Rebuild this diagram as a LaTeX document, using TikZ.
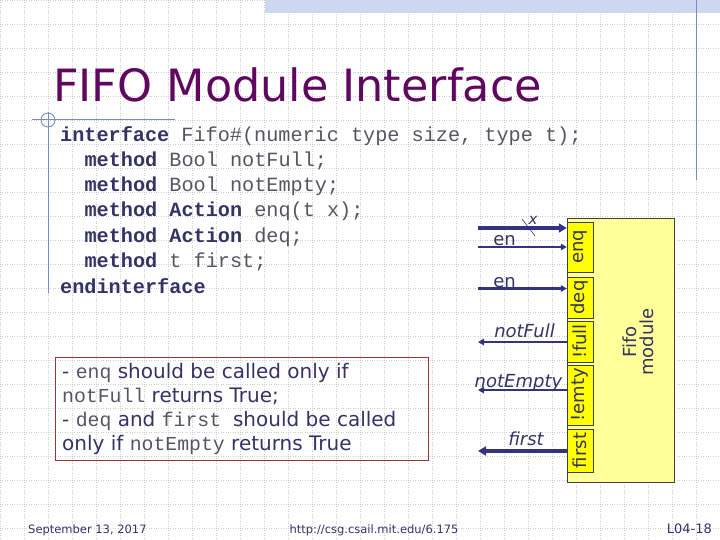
\documentclass[tikz,border=0pt]{standalone}
\usepackage{graphicx}
\usepackage{fontspec}
\setmainfont{DejaVu Sans}
\setmonofont{Liberation Mono}
\usetikzlibrary{arrows.meta,positioning}

\definecolor{titlepurple}{RGB}{96,8,96}
\definecolor{navy}{RGB}{51,51,102}
\definecolor{codegray}{RGB}{85,85,100}
\definecolor{wireblue}{RGB}{51,51,128}
\definecolor{modyellow}{RGB}{255,255,153}
\definecolor{portyellow}{RGB}{255,255,0}
\definecolor{notered}{RGB}{160,50,60}
\definecolor{gridgray}{RGB}{205,205,205}
\definecolor{lineblue}{RGB}{120,140,190}
\definecolor{barblue}{RGB}{205,215,240}

\newcommand{\kw}[1]{{\bfseries\color{navy}#1}}
\newcommand{\cd}[1]{{\ttfamily\fontsize{19.8}{24}\selectfont\color{codegray}#1}}

\tikzset{
  gridline/.style={gridgray,line width=0.5pt,dash pattern=on 0.8pt off 1.6pt},
  deco/.style={lineblue,line width=0.9pt},
  codeline/.style={anchor=base west,inner sep=0pt,text=codegray,
    font=\ttfamily\fontsize{20.2}{25}\selectfont},
  noteline/.style={anchor=base west,inner sep=0pt,text=navy,
    font=\fontsize{20}{24}\selectfont},
  port/.style={draw=black!75,fill=portyellow,minimum width=26pt,inner sep=0pt,
    text=navy,font=\fontsize{18}{18}\selectfont},
  wire/.style={wireblue,line width=2.2pt,-{Triangle[length=6pt,width=6.5pt]}},
  bus/.style={wireblue,line width=4.5pt,-{Triangle[length=8pt,width=9pt]}},
  wirelbl/.style={anchor=base,inner sep=0pt,text=navy,font=\fontsize{18}{18}\selectfont},
  footer/.style={anchor=base,inner sep=0pt,text=navy,font=\fontsize{11.5}{12}\selectfont}
}

\begin{document}
\begin{tikzpicture}[x=1pt,y=-1pt]
  \useasboundingbox (0,0) rectangle (720,540);
  % background grid of the slide
  \foreach \x in {0,24,...,720}
    \draw[gridline] (\x,0) -- (\x,540);
  \foreach \y in {0,24,...,528}
    \draw[gridline] (0,\y) -- (720,\y);
  \fill[barblue] (265,0) rectangle (720,13);
  \draw[deco] (696,0) -- (696,180);
  \draw[deco] (32,119) -- (175,119);
  \draw[deco] (48,112) -- (48,293);
  \draw[deco] (48,120) circle (7);

  \node[anchor=base west,inner sep=0pt,text=titlepurple,font=\fontsize{44.5}{50}\selectfont]
    (title) at (53,102) {FIFO Module Interface};

  % interface code
  \node[codeline] (code1) at (60,142)   {\kw{interface} Fifo\#(numeric type size, type t);};
  \node[codeline] (code2) at (84.4,167) {\kw{method} Bool notFull;};
  \node[codeline] (code3) at (84.4,192) {\kw{method} Bool notEmpty;};
  \node[codeline] (code4) at (84.4,217) {\kw{method} \kw{Action} enq(t x);};
  \node[codeline] (code5) at (84.4,242) {\kw{method} \kw{Action} deq;};
  \node[codeline] (code6) at (84.4,267) {\kw{method} t first;};
  \node[codeline] (code7) at (60,293)   {\kw{endinterface}};

  % note
  \node[draw=notered,line width=0.8pt,anchor=north west,minimum width=373pt,
    minimum height=103pt] (note) at (55,357) {};
  \node[noteline] (note1) at (62,378) {- \cd{enq} should be called only if};
  \node[noteline] (note2) at (62,402) {\cd{notFull} returns True;};
  \node[noteline] (note3) at (62,426) {- \cd{deq} and \cd{first\ }should be called};
  \node[noteline] (note4) at (62,450) {only if \cd{notEmpty} returns True};

  % module and its ports
  \node[draw=black!75,fill=modyellow,minimum width=107pt,minimum height=264pt,
    inner sep=0pt] (fifo) at (620.5,350) {};
  \node[text=navy,font=\fontsize{18}{20}\selectfont,align=center,inner sep=0pt]
    (fifolbl) at (638,342) {\rotatebox{90}{\shortstack{Fifo\\module}}};
  \node[port,minimum height=50pt] (enq)   at (580,247)   {\rotatebox{90}{enq}};
  \node[port,minimum height=41pt] (deq)   at (580,297.5) {\rotatebox{90}{deq}};
  \node[port,minimum height=41pt] (full)  at (580,341.5) {\rotatebox{90}{!full}};
  \node[port,minimum height=60pt] (emty)  at (580,395)   {\rotatebox{90}{!emty}};
  \node[port,minimum height=43pt] (first) at (580,450.5) {\rotatebox{90}{first}};

  \coordinate (xin)      at (478,228);
  \coordinate (enqen)    at (478,247);
  \coordinate (deqen)    at (478,288.5);
  \coordinate (fullout)  at (478,342);
  \coordinate (emtyout)  at (478,390);
  \coordinate (firstout) at (478,451);
  \draw[bus]  (xin) -- (xin -| enq.west);
  \draw[wire] (enqen) -- (enqen -| enq.west);
  \draw[wire] (deqen) -- (deqen -| deq.west);
  \draw[wire] (fullout -| full.west) -- (fullout);
  \draw[wire] (emtyout -| emty.west) -- (emtyout);
  \draw[bus]  (firstout -| first.west) -- (firstout);

  % bus slash with its name
  \coordinate (slashA) at (522,219);
  \coordinate (slashB) at (535,236);
  \draw[wireblue,line width=0.6pt] (slashA) -- (slashB);
  \node[text=navy,font=\itshape\fontsize{15}{15}\selectfont,inner sep=0pt]
    (xlbl) at (533,220) {x};

  \node[wirelbl] (en1)     at (504.5,245) {en};
  \node[wirelbl] (en2)     at (504.5,287) {en};
  \node[wirelbl,font=\itshape\fontsize{18}{18}\selectfont] (fulllbl)  at (524.5,337) {notFull};
  \node[wirelbl,font=\itshape\fontsize{18}{18}\selectfont] (emtylbl)  at (518.5,387) {notEmpty};
  \node[wirelbl,font=\itshape\fontsize{18}{18}\selectfont] (firstlbl) at (526,445) {first};

  % footer
  \node[footer,anchor=base west] (date) at (28,533) {September 13, 2017};
  \node[footer] (url) at (374,533) {http://csg.csail.mit.edu/6.175};
  \node[footer,anchor=base east,font=\fontsize{13}{13}\selectfont] (page) at (712,533) {L04-18};
\end{tikzpicture}
\end{document}
